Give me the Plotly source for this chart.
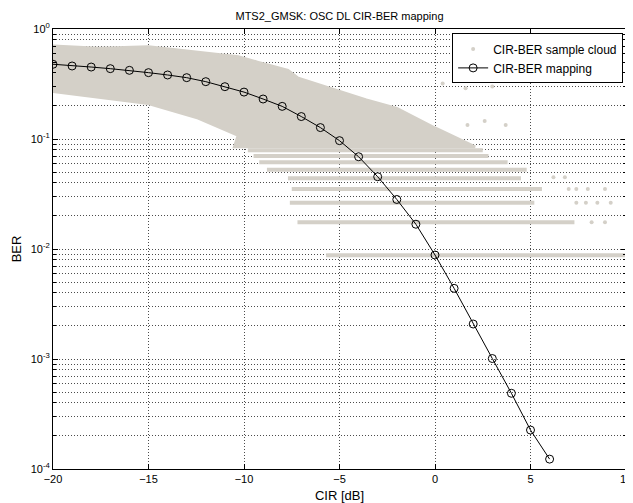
import plotly.graph_objects as go

# ---------------- data ----------------
cir_map = list(range(-20, 7))
ber_map = [0.478, 0.461, 0.451, 0.436, 0.421, 0.401, 0.382, 0.361, 0.332, 0.299,
           0.267, 0.231, 0.198, 0.160, 0.127, 0.0966, 0.069, 0.0454, 0.0282, 0.0168,
           0.00882, 0.00439, 0.00208, 0.00101, 0.000488, 0.000226, 0.000123]

# dense part of the sample cloud (outline, clockwise)
cloud_cir = [-20.0, -17.6, -15.0, -12.4, -10.3, -9.3, -7.7, -7.2, -5.5, -3.6, -2.0, 0.0, 2.1,
             2.1, -10.5, -10.3, -12.4, -15.0, -17.6, -20.0]
cloud_ber = [0.70, 0.67, 0.69, 0.62, 0.56, 0.50, 0.42, 0.36, 0.29, 0.226, 0.19, 0.126, 0.085,
             0.085, 0.085, 0.108, 0.155, 0.21, 0.24, 0.27]

# quantised BER streaks (k errors out of 114 bits)
streak_k = [1, 2, 3, 4, 5, 6, 7, 8, 9]
streak_start = [-5.7, -7.2, -7.6, -7.5, -7.7, -8.8, -9.2, -9.5, -9.8]
streak_end = [10.0, 7.3, 5.2, 5.6, 4.5, 4.8, 3.8, 2.8, 2.5]
bits_per_burst = 114

# isolated samples outside the dense cloud
iso_cir = [1.7, 2.6, 3.7, 0.4, 1.6, 3.0, 6.2, 6.8, 7.0, 7.4, 8.0, 8.9, 7.4, 7.9, 8.5, 9.2, 8.2, 8.9]
iso_ber = [0.134, 0.146, 0.134, 0.32, 0.29, 0.30, 0.0449, 0.0449, 0.0351, 0.0351, 0.0351, 0.0351,
           0.0263, 0.0263, 0.0263, 0.0263, 0.0175, 0.0175]

x_ticks = [-20, -15, -10, -5, 0, 5, 10]
y_ticks = [1e-4, 1e-3, 1e-2, 1e-1, 1e0]
y_ticktext = ["10<sup>-4</sup>", "10<sup>-3</sup>", "10<sup>-2</sup>", "10<sup>-1</sup>", "10<sup>0</sup>"]

CLOUD = "rgb(212,208,200)"
FONT = "Liberation Sans, Arial, sans-serif"
GRID = "rgba(0,0,0,0.7)"
DOTS = "1px,2px"

fig = go.Figure()

# isolated samples — carries the legend entry of the cloud
fig.add_trace(go.Scatter(x=iso_cir, y=iso_ber, mode="markers", name="CIR-BER sample cloud",
                         marker=dict(color=CLOUD, size=4, symbol="circle")))

fig.add_trace(go.Scatter(x=cloud_cir, y=cloud_ber, mode="lines", fill="toself",
                         fillcolor=CLOUD, line=dict(color=CLOUD, width=3),
                         showlegend=False, hoverinfo="skip"))

for k, x0, x1 in zip(streak_k, streak_start, streak_end):
    lvl = k / bits_per_burst
    fig.add_trace(go.Scatter(x=[x0, x1], y=[lvl, lvl], mode="lines",
                             line=dict(color=CLOUD, width=4),
                             showlegend=False, hoverinfo="skip"))

fig.add_trace(go.Scatter(x=cir_map, y=ber_map, mode="lines+markers", name="CIR-BER mapping",
                         line=dict(color="black", width=1),
                         marker=dict(symbol="circle-open", size=8, color="black",
                                     line=dict(width=1, color="black"))))

minor_vals = [m * 10.0 ** e for e in range(-4, 0) for m in range(2, 10)]

# the page body adds an 8 px offset, so the figure is 8 px smaller
fig.update_layout(
    width=625, height=495, autosize=False,
    margin=dict(l=45, r=1, t=21, b=34),
    paper_bgcolor="white", plot_bgcolor="white",
    font=dict(family=FONT, size=11, color="black"),
    title=dict(text="MTS2_GMSK: OSC DL CIR-BER mapping", x=0.5, xref="paper",
               y=1 - 8 / 495, yref="container", yanchor="middle",
               font=dict(size=11, family=FONT)),
    legend=dict(x=0.995, y=0.99, xanchor="right", yanchor="top",
                bgcolor="white", bordercolor="black", borderwidth=1,
                font=dict(size=12, family=FONT), tracegroupgap=0),
    xaxis=dict(range=[-20, 10], tickmode="array", tickvals=x_ticks,
               ticks="inside", ticklen=5, tickcolor="black",
               showline=True, linecolor="black", linewidth=1, mirror="ticks",
               showgrid=True, gridcolor=GRID, griddash=DOTS, gridwidth=1,
               zeroline=False, title=dict(text="CIR [dB]", standoff=7),
               tickfont=dict(size=11), ticklabeloverflow="allow"),
    yaxis=dict(type="log", range=[-4, 0], tickmode="array", tickvals=y_ticks,
               ticktext=y_ticktext, ticks="inside", ticklen=5, tickcolor="black",
               showline=True, linecolor="black", linewidth=1, mirror="ticks",
               showgrid=True, gridcolor=GRID, griddash=DOTS, gridwidth=1,
               zeroline=False, title=dict(text="BER", standoff=6),
               tickfont=dict(size=11),
               minor=dict(tickvals=minor_vals, ticks="inside", ticklen=3,
                          tickcolor="black", showgrid=True,
                          gridcolor=GRID, griddash=DOTS, gridwidth=1)),
)

fig.write_html("out.html")
